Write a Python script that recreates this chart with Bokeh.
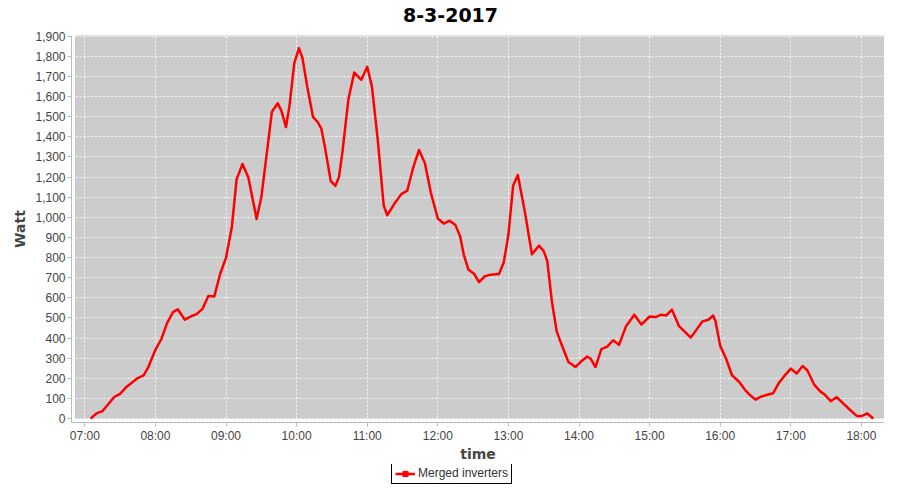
import pandas as pd
from bokeh.plotting import figure
from bokeh.layouts import column
from bokeh.models import (Range1d, BoxAnnotation, FixedTicker, SingleIntervalTicker,
                          NumeralTickFormatter, DatetimeTickFormatter, Legend, LegendItem, Label)
from bokeh.embed import file_html
from bokeh.resources import INLINE

DATE = "2017-03-08"
TITLE = "8-3-2017"
SERIES = "Merged inverters"

times = ["07:05", "07:10", "07:15", "07:19", "07:25", "07:30", "07:35", "07:40", "07:45", "07:50",
         "07:54", "08:00", "08:05", "08:10", "08:15", "08:19", "08:25", "08:30", "08:35", "08:40",
         "08:45", "08:50", "08:55", "09:00", "09:05", "09:09", "09:14", "09:19", "09:26", "09:30",
         "09:35", "09:39", "09:44", "09:47", "09:51", "09:54", "09:58", "10:02", "10:05", "10:09",
         "10:14", "10:18", "10:21", "10:24", "10:29", "10:33", "10:36", "10:39", "10:44", "10:49",
         "10:55", "11:00", "11:04", "11:09", "11:14", "11:17", "11:24", "11:29", "11:34", "11:39",
         "11:44", "11:49", "11:54", "12:00", "12:05", "12:10", "12:15", "12:19", "12:22", "12:26",
         "12:31", "12:35", "12:40", "12:45", "12:52", "12:56", "13:00", "13:04", "13:08", "13:14",
         "13:20", "13:26", "13:30", "13:33", "13:37", "13:41", "13:45", "13:51", "13:57", "14:02",
         "14:07", "14:10", "14:14", "14:19", "14:24", "14:29", "14:34", "14:40", "14:47", "14:53",
         "15:00", "15:05", "15:10", "15:14", "15:19", "15:25", "15:30", "15:35", "15:40", "15:45",
         "15:50", "15:54", "15:56", "16:00", "16:05", "16:10", "16:16", "16:21", "16:26", "16:30",
         "16:34", "16:40", "16:45", "16:50", "16:54", "17:00", "17:05", "17:10", "17:14", "17:20",
         "17:25", "17:29", "17:34", "17:39", "17:44", "17:50", "17:56", "18:00", "18:05", "18:10"]
watts = [0, 26, 37, 65, 107, 123, 155, 178, 201, 215,
         256, 342, 394, 475, 529, 543, 491, 507, 519, 545,
         609, 606, 718, 799, 953, 1188, 1265, 1197, 991, 1099,
         1334, 1524, 1566, 1530, 1448, 1556, 1764, 1840, 1790, 1650,
         1497, 1472, 1440, 1351, 1180, 1156, 1200, 1326, 1586, 1719,
         1683, 1748, 1650, 1383, 1059, 1010, 1075, 1115, 1132, 1245,
         1334, 1270, 1124, 994, 969, 983, 961, 905, 816, 740,
         718, 678, 707, 715, 718, 775, 913, 1156, 1210, 1026,
         816, 859, 832, 783, 580, 434, 370, 281, 256, 285,
         308, 297, 256, 345, 357, 389, 366, 459, 516, 467,
         507, 504, 516, 512, 541, 459, 431, 402, 443, 483,
         491, 512, 483, 361, 297, 215, 183, 143, 113, 94,
         107, 118, 126, 178, 208, 248, 224, 261, 240, 167,
         135, 118, 86, 107, 78, 45, 13, 12, 26, 0]
hour_ticks = ["07:00", "08:00", "09:00", "10:00", "11:00", "12:00",
              "13:00", "14:00", "15:00", "16:00", "17:00", "18:00"]


def to_dt(hhmm):
    return pd.Timestamp(f"{DATE} {hhmm}")


def to_ms(ts):
    return ts.value / 1e6


xs = [to_dt(t) for t in times]

x_start = to_dt("06:48:42")
x_end = to_dt("18:19:37")
box_left = to_dt("06:52:06")

RED = "#FF0000"
W = 884
H_TITLE = 30
H_LEG = 20
H_MAIN = 484 - H_TITLE - H_LEG


def strip(height):
    f = figure(width=W, height=height, output_backend="svg", toolbar_location=None,
               x_range=Range1d(71, 884), y_range=Range1d(0, height),
               x_axis_location=None, y_axis_location=None,
               min_border=0, min_border_left=0, min_border_right=0,
               min_border_top=0, min_border_bottom=0)
    f.outline_line_color = None
    f.grid.visible = False
    f.background_fill_color = "white"
    f.border_fill_color = "white"
    return f


# title strip
tf = strip(H_TITLE)
tf.add_layout(Label(x=450, y=H_TITLE - 14, text=TITLE, text_align="center", text_baseline="middle",
                    text_font="DejaVu Sans", text_font_style="bold", text_font_size="19px",
                    text_color="black"))

p = figure(width=W, height=H_MAIN, output_backend="svg", toolbar_location=None,
           x_axis_type="datetime",
           x_range=Range1d(x_start, x_end), y_range=Range1d(-19.6, 1903),
           min_border_left=71, min_border_right=0, min_border_top=5, min_border_bottom=30)

p.background_fill_color = "white"
p.border_fill_color = "white"
p.outline_line_color = None

# plot-area background (JFreeChart style, offset from axes)
bg = BoxAnnotation(left=box_left, bottom=0, fill_color="#CCCCCC", fill_alpha=1.0,
                   line_color="#7F7F7F", line_width=1, level="image")
p.add_layout(bg)

p.line(xs, watts, line_color=RED, line_width=2.5, line_join="round")

# axes
p.xaxis.ticker = FixedTicker(ticks=[to_ms(to_dt(h)) for h in hour_ticks])
fmt = "%H:%M"
p.xaxis.formatter = DatetimeTickFormatter(milliseconds=fmt, seconds=fmt, minsec=fmt, minutes=fmt,
                                          hourmin=fmt, hours=fmt, days=fmt, months=fmt, years=fmt)
p.yaxis.ticker = SingleIntervalTicker(interval=100)
p.yaxis.formatter = NumeralTickFormatter(format="0,0")
p.xaxis.axis_label = "time"
p.yaxis.axis_label = "Watt"

for ax in (p.xaxis, p.yaxis):
    ax.axis_line_color = "#BBBBBB"
    ax.major_tick_line_color = "#BBBBBB"
    ax.major_tick_in = 0
    ax.major_tick_out = 4
    ax.minor_tick_line_color = None
    ax.major_label_text_font = "Liberation Sans"
    ax.major_label_text_font_size = "12px"
    ax.major_label_text_color = "#444444"
    ax.major_label_standoff = 2
    ax.axis_label_text_font = "DejaVu Sans"
    ax.axis_label_text_font_style = "bold"
    ax.axis_label_text_font_size = "14px"
    ax.axis_label_text_color = "#444444"
p.xaxis.axis_label_standoff = 0
p.yaxis.axis_label_standoff = 4

for g in (p.xgrid, p.ygrid):
    g.grid_line_color = "white"
    g.grid_line_alpha = 0.85
    g.grid_line_dash = "2 2"
    g.grid_line_width = 1
p.ygrid.ticker = SingleIntervalTicker(interval=100)

# legend strip below the chart
lf = strip(H_LEG)
lr = lf.line([-5, -4], [-5, -4], line_color=RED, line_width=2.5)
ls = lf.scatter([-5], [-5], marker="square", size=3, fill_color=RED, line_color=RED)
legend = Legend(items=[LegendItem(label=SERIES, renderers=[lr, ls])],
                location=(320, 0), orientation="horizontal",
                border_line_color="black", border_line_width=1, border_line_alpha=1,
                background_fill_color="white", background_fill_alpha=1,
                label_text_font="Liberation Sans", label_text_font_size="12px",
                label_text_color="#333333", glyph_width=20, glyph_height=13,
                label_standoff=3, padding=3, margin=0, spacing=0)
lf.add_layout(legend, "center")

layout = column(tf, p, lf, spacing=0)
open("out.html", "w").write(file_html(layout, INLINE))
